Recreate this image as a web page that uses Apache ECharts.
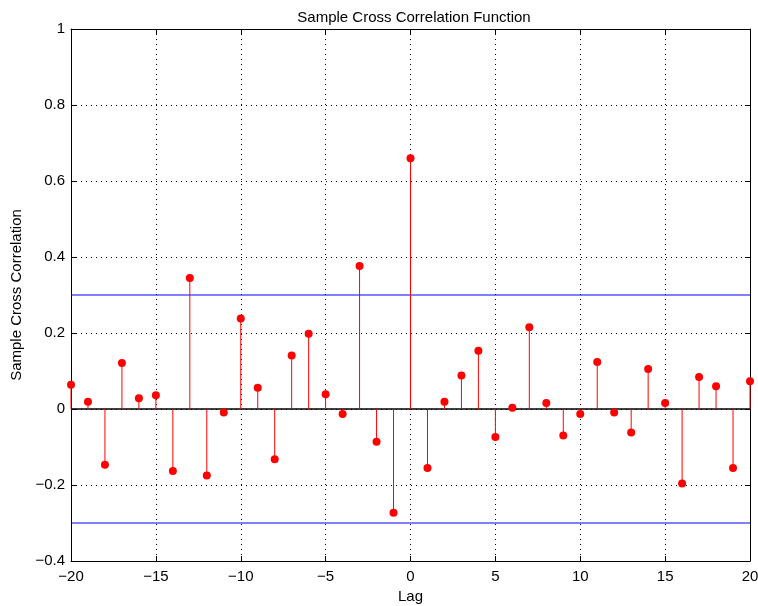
<!DOCTYPE html>
<html>
<head>
<meta charset="utf-8">
<script src="https://cdn.jsdelivr.net/npm/echarts@6/dist/echarts.min.js"></script>
<style>
  html, body { margin: 0; padding: 0; background: #fff; }
  #chart { width: 758px; height: 606px; }
</style>
</head>
<body>
<div id="chart"></div>
<script>
// lags and sample cross correlation values
var lags = [-20, -19, -18, -17, -16, -15, -14, -13, -12, -11, -10, -9, -8, -7, -6, -5, -4, -3, -2, -1,
            0, 1, 2, 3, 4, 5, 6, 7, 8, 9, 10, 11, 12, 13, 14, 15, 16, 17, 18, 19, 20];
var xcf = [0.064, 0.019, -0.147, 0.121, 0.028, 0.036, -0.163, 0.345, -0.175, -0.009,
           0.238, 0.056, -0.132, 0.141, 0.198, 0.039, -0.013, 0.376, -0.086, -0.273,
           0.660, -0.155, 0.019, 0.088, 0.153, -0.074, 0.003, 0.215, 0.016, -0.070,
           -0.013, 0.124, -0.009, -0.062, 0.105, 0.016, -0.196, 0.084, 0.060, -0.155, 0.073];
// confidence bounds
var bound = 0.3;

var points = lags.map(function (l, i) { return [l, xcf[i]]; });

var font = 'Liberation Sans, Arial, sans-serif';
var fs = 15;
var chart = echarts.init(document.getElementById('chart'));

var gridLine = { show: true, lineStyle: { color: '#000', type: [1, 4], width: 1 } };

chart.setOption({
  animation: false,
  title: {
    text: 'Sample Cross Correlation Function',
    left: 409, top: 5, textAlign: 'center',
    textStyle: { fontFamily: font, fontSize: fs, fontWeight: 'normal', color: '#000' }
  },
  grid: { left: 71, right: 8, top: 29, bottom: 45, outerBoundsMode: 'none', containLabel: false },
  xAxis: [{
    type: 'value', min: -20, max: 20, interval: 5,
    name: 'Lag', nameLocation: 'middle', nameGap: 28,
    nameTextStyle: { fontFamily: font, fontSize: fs, color: '#000' },
    axisLine: { onZero: false, lineStyle: { color: '#000' } },
    axisTick: { inside: true, length: 5, lineStyle: { color: '#000' } },
    axisLabel: { fontFamily: font, fontSize: fs, color: '#000', margin: 8,
      formatter: function (v) { return v < 0 ? '\u2212' + (-v) : String(v); } },
    splitLine: gridLine
  }, {
    type: 'value', min: -20, max: 20, interval: 5, position: 'top',
    axisLine: { onZero: false, lineStyle: { color: '#000' } },
    axisTick: { inside: true, length: 5, lineStyle: { color: '#000' } },
    axisLabel: { show: false }, splitLine: { show: false }
  }],
  yAxis: [{
    type: 'value', min: -0.4, max: 1, interval: 0.2,
    name: 'Sample Cross Correlation', nameLocation: 'middle', nameGap: 45,
    nameTextStyle: { fontFamily: font, fontSize: fs, color: '#000' },
    axisLine: { show: true, onZero: false, lineStyle: { color: '#000' } },
    axisTick: { show: true, inside: true, length: 5, lineStyle: { color: '#000' } },
    axisLabel: { fontFamily: font, fontSize: fs, color: '#000', margin: 6,
      formatter: function (v) {
        var r = Math.round(v * 10) / 10;
        if (r === 0) return '0';
        if (r === 1) return '1';
        return (r < 0 ? '\u2212' : '') + Math.abs(r).toFixed(1);
      } },
    splitLine: gridLine
  }, {
    type: 'value', min: -0.4, max: 1, interval: 0.2, position: 'right',
    axisLine: { show: true, onZero: false, lineStyle: { color: '#000' } },
    axisTick: { show: true, inside: true, length: 5, lineStyle: { color: '#000' } },
    axisLabel: { show: false }, splitLine: { show: false }
  }],
  series: [{
    name: 'zero', type: 'line', data: [[-20, 0], [20, 0]], symbol: 'none',
    color: '#000', lineStyle: { color: '#000', width: 1.5 }, z: 3
  }, {
    name: 'upper', type: 'line', data: [[-20, bound], [20, bound]], symbol: 'none',
    color: '#0000ff', lineStyle: { color: '#0000ff', width: 1 }, z: 3
  }, {
    name: 'lower', type: 'line', data: [[-20, -bound], [20, -bound]], symbol: 'none',
    color: '#0000ff', lineStyle: { color: '#0000ff', width: 1 }, z: 3
  }, {
    type: 'custom', data: points, z: 4,
    renderItem: function (params, api) {
      var p0 = api.coord([api.value(0), 0]);
      var p1 = api.coord([api.value(0), api.value(1)]);
      return { type: 'line', shape: { x1: p0[0], y1: p0[1], x2: p1[0], y2: p1[1] },
               style: { stroke: '#ff0000', lineWidth: 1 } };
    }
  }, {
    type: 'scatter', data: points, symbol: 'circle', symbolSize: 8, z: 5,
    itemStyle: { color: '#ff0000', opacity: 1 }
  }]
});
</script>
</body>
</html>
